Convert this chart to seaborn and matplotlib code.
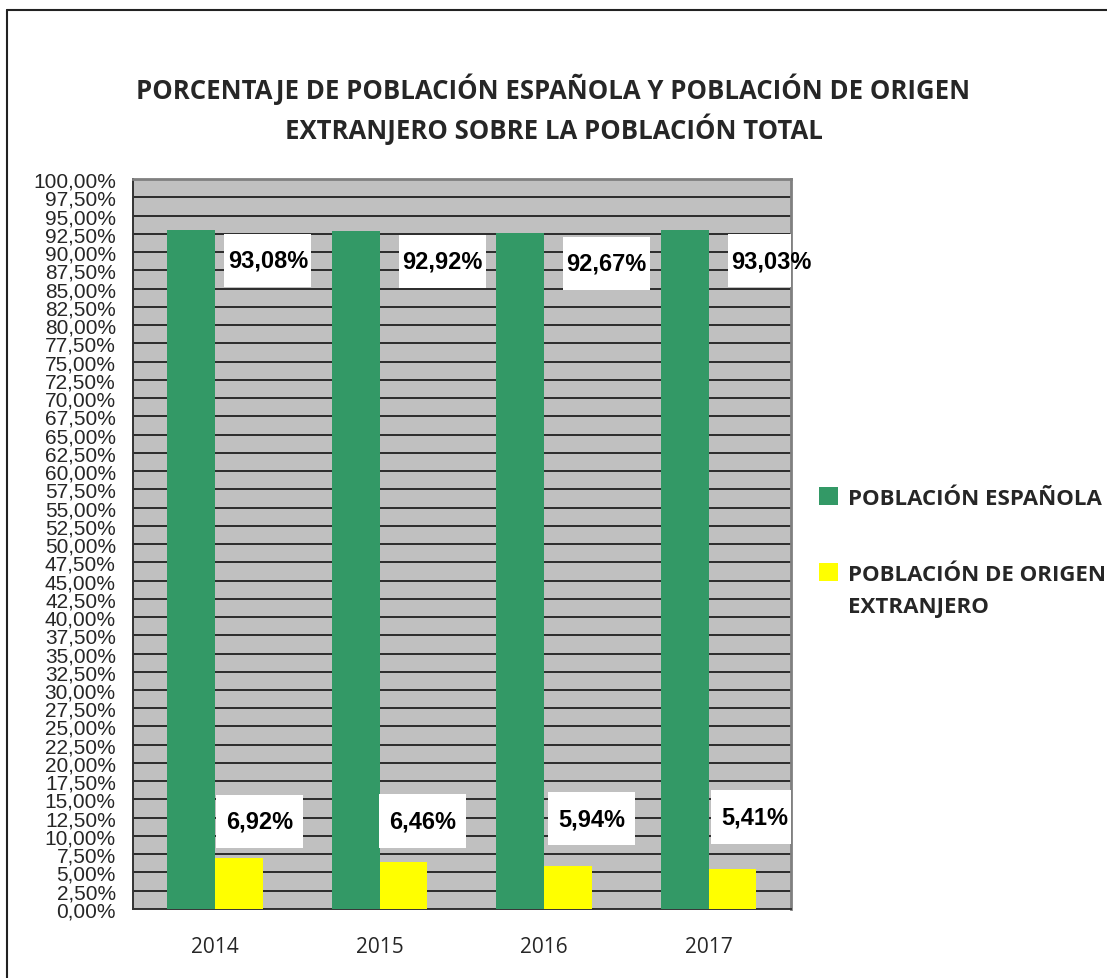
import numpy as np
import pandas as pd
import matplotlib
matplotlib.use("Agg")
import matplotlib.pyplot as plt
import seaborn as sns
from matplotlib.ticker import FuncFormatter, MultipleLocator, FixedLocator
from matplotlib.patches import Patch, Rectangle
from matplotlib.lines import Line2D

# --- data ---
years = ["2014", "2015", "2016", "2017"]
series_names = ["POBLACIÓN ESPAÑOLA", "POBLACIÓN DE ORIGEN EXTRANJERO"]
espanola = [93.08, 92.92, 92.67, 93.03]
extranjero = [6.92, 6.46, 5.94, 5.41]
colors = ["#339966", "#FFFF00"]

# where the data labels sit relative to their bars (category / percentage units)
esp_label_dx = [0.32, 0.38, 0.38, 0.38]
ext_label_dx = [0.27, 0.26, 0.29, 0.28]
ext_label_dy = [5.1, 5.6, 6.45, 7.2]

df = pd.DataFrame({
    "year": years * 2,
    "serie": [series_names[0]] * 4 + [series_names[1]] * 4,
    "valor": espanola + extranjero,
})

def pct(v):
    return f"{v:.2f}%".replace(".", ",")

sns.set_style("white")
plt.rcParams["font.family"] = ["Open Sans", "DejaVu Sans"]
narrow = ["Liberation Sans Narrow", "Liberation Sans", "DejaVu Sans"]

fig = plt.figure(figsize=(11.07, 9.79), dpi=100)
ax = fig.add_axes([0.1201, 0.0705, 0.5944, 0.7456])
ax.set_facecolor("#C0C0C0")

sns.barplot(data=df, x="year", y="valor", hue="serie", order=years,
            hue_order=series_names, palette=colors, width=0.58, gap=0,
            saturation=1, edgecolor="none", linewidth=0, ax=ax, legend=False,
            zorder=3)

ax.set_ylim(0, 100)
ax.set_xlim(-0.5, len(years) - 0.5)
ax.yaxis.set_major_locator(MultipleLocator(2.5))
ax.yaxis.set_major_formatter(FuncFormatter(lambda v, _: pct(v)))
ax.grid(axis="y", color="#2b2b2b", linewidth=1.4, zorder=0)
ax.set_axisbelow(True)

# category ticks at the boundaries, labels centred
ax.xaxis.set_major_locator(FixedLocator(np.arange(-0.5, len(years), 1.0)))
ax.xaxis.set_major_formatter(FuncFormatter(lambda v, _: ""))
ax.xaxis.set_minor_locator(FixedLocator(np.arange(len(years))))
ax.set_xticklabels(years, minor=True)
ax.tick_params(axis="x", which="major", direction="out", length=5, width=1.2, color="#333333")
ax.tick_params(axis="x", which="minor", length=0, pad=19.5, labelsize=15)
ax.tick_params(axis="y", direction="out", length=4.3, width=1.2, color="#333333",
               labelsize=15, pad=8)
for lbl in ax.get_yticklabels():
    lbl.set_fontfamily(narrow)
ax.set_xlabel("")
ax.set_ylabel("")

for side in ["left", "bottom"]:
    ax.spines[side].set_color("#333333")
    ax.spines[side].set_linewidth(1.4)
for side in ["top", "right"]:
    ax.spines[side].set_color("#808080")
    ax.spines[side].set_linewidth(2)

# data labels in white boxes, shifted right of the bars
box_w, box_h = 0.53, 7.3


def boxed_label(x, y, txt):
    ax.add_patch(Rectangle((x - box_w / 2, y - box_h / 2), box_w, box_h,
                           facecolor="white", edgecolor="none", zorder=4))
    ax.text(x, y, txt, ha="center", va="center", fontsize=17, fontweight="bold",
            family=narrow, color="black", zorder=5)


for i, v in enumerate(espanola):
    boxed_label(i + esp_label_dx[i], v - 4.2, pct(v))
for i, v in enumerate(extranjero):
    boxed_label(i + ext_label_dx[i], v + ext_label_dy[i], pct(v))

# legend (second label wraps onto a second line, handle stays on the first)
handles = [Patch(facecolor=c, edgecolor="none") for c in colors]
legend_labels = ["POBLACIÓN ESPAÑOLA", "POBLACIÓN DE ORIGEN"]
leg = fig.legend(handles, legend_labels, loc="upper left", bbox_to_anchor=(0.722, 0.522),
                 frameon=False, handlelength=0.85, handleheight=0.85, handletextpad=0.45,
                 labelspacing=2.45, prop={"weight": "bold", "size": 16})

fig.suptitle("PORCENTAJE DE POBLACIÓN ESPAÑOLA Y POBLACIÓN DE ORIGEN\nEXTRANJERO SOBRE LA POBLACIÓN TOTAL",
             x=0.5, y=0.925, fontsize=18.5, fontweight="bold", linespacing=1.35)

fig.canvas.draw()
bb = leg.get_texts()[1].get_window_extent()
W, H = fig.bbox.width, fig.bbox.height
fig.text(bb.x0 / W, ((bb.y0 + bb.y1) / 2 - 32) / H, "EXTRANJERO", ha="left", va="center",
         fontsize=16, fontweight="bold")

# outer chart border (left and top visible)
fig.add_artist(Line2D([0.0065, 0.0065], [0, 0.989], transform=fig.transFigure,
                      color="#222222", linewidth=1.5))
fig.add_artist(Line2D([0.0065, 1.0], [0.989, 0.989], transform=fig.transFigure,
                      color="#222222", linewidth=1.5))

fig.savefig("out.png", dpi=100)
